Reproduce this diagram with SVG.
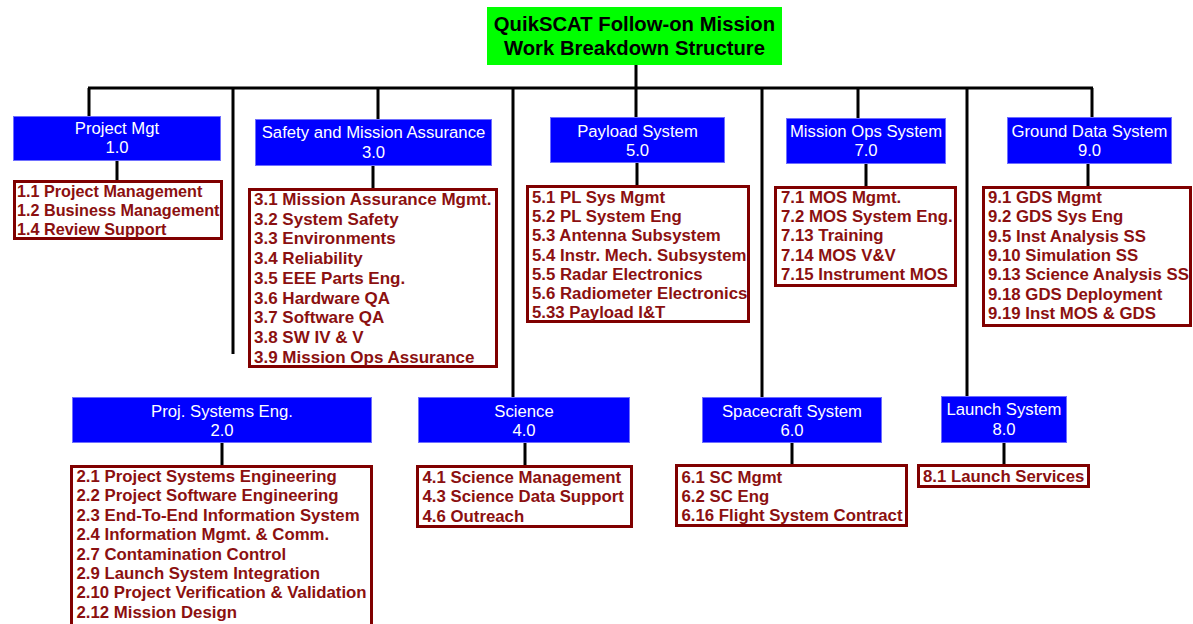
<svg xmlns="http://www.w3.org/2000/svg" width="1193" height="624" viewBox="0 0 1193 624">
<style>
.title{font-family:"Liberation Sans",Arial,sans-serif;font-weight:bold;font-size:20.3px;fill:#000;text-anchor:middle}
.hd{fill:#0000ff;stroke:#6f6fff;stroke-width:1}
.ht{font-family:"Liberation Sans",Arial,sans-serif;font-size:16.7px;fill:#fff;text-anchor:middle}
.sb{fill:#fff;stroke:#800000;stroke-width:3}
.st{font-family:"Liberation Sans",Arial,sans-serif;font-weight:bold;font-size:16.8px;fill:#8b1010}
.ln{stroke:#000;stroke-width:3;fill:none}
</style>
<rect width="1193" height="624" fill="#fff"/>
<g id="connectors">
<path class="ln" d="M636 65V117 M88 88H1093 M89 88V116 M233 88V354 M378 88V119 M513 88V397 M762 88V397 M858 88V118 M967 88V396 M1092 88V117"/>
<path class="ln" d="M117 161V180 M373 166V188 M637 163V185 M866 164V186 M1088 164V186 M222 443V465 M525 443V465 M792 443V464 M1004 443V464"/>
</g>
<g id="title">
<rect x="487" y="7" width="295" height="58" fill="#00ff00"/>
<text class="title" x="634.5" y="31">QuikSCAT Follow-on Mission</text>
<text class="title" x="634.5" y="55">Work Breakdown Structure</text>
</g>
<g id="n1">
<rect class="hd" x="13.5" y="116.5" width="207" height="44"/>
<text class="ht" x="117" y="134">Project Mgt</text>
<text class="ht" x="117" y="153">1.0</text>
<rect class="sb" x="14.5" y="181.5" width="207" height="57"/>
<text class="st" style="font-size:16.2px"><tspan x="17" y="197">1.1 Project Management</tspan><tspan x="17" y="216">1.2 Business Management</tspan><tspan x="17" y="234.5">1.4 Review Support</tspan></text>
</g>
<g id="n3">
<rect class="hd" x="255.5" y="119.5" width="236" height="46"/>
<text class="ht" x="373.5" y="138">Safety and Mission Assurance</text>
<text class="ht" x="373.5" y="158">3.0</text>
<rect class="sb" x="249.5" y="189.5" width="247" height="177"/>
<text class="st" style="font-size:17px"><tspan x="254" y="205">3.1 Mission Assurance Mgmt.</tspan><tspan x="254" y="224.7">3.2 System Safety</tspan><tspan x="254" y="244.4">3.3 Environments</tspan><tspan x="254" y="264.1">3.4 Reliability</tspan><tspan x="254" y="283.8">3.5 EEE Parts Eng.</tspan><tspan x="254" y="303.5">3.6 Hardware QA</tspan><tspan x="254" y="323.2">3.7 Software QA</tspan><tspan x="254" y="342.9">3.8 SW IV &amp; V</tspan><tspan x="254" y="362.6">3.9 Mission Ops Assurance</tspan></text>
</g>
<g id="n5">
<rect class="hd" x="550.5" y="117.5" width="174" height="45"/>
<text class="ht" x="637.5" y="137">Payload System</text>
<text class="ht" x="637.5" y="156">5.0</text>
<rect class="sb" x="527.5" y="186.5" width="221" height="135"/>
<text class="st"><tspan x="532" y="203">5.1 PL Sys Mgmt</tspan><tspan x="532" y="222.2">5.2 PL System Eng</tspan><tspan x="532" y="241.4">5.3 Antenna Subsystem</tspan><tspan x="532" y="260.6">5.4 Instr. Mech. Subsystem</tspan><tspan x="532" y="279.8">5.5 Radar Electronics</tspan><tspan x="532" y="299">5.6 Radiometer Electronics</tspan><tspan x="532" y="318.2">5.33 Payload I&amp;T</tspan></text>
</g>
<g id="n7">
<rect class="hd" x="786.5" y="118.5" width="159" height="45"/>
<text class="ht" x="866" y="137">Mission Ops System</text>
<text class="ht" x="866" y="156">7.0</text>
<rect class="sb" x="775.5" y="187.5" width="180" height="98"/>
<text class="st"><tspan x="781" y="203">7.1 MOS Mgmt.</tspan><tspan x="781" y="222.2">7.2 MOS System Eng.</tspan><tspan x="781" y="241.4">7.13 Training</tspan><tspan x="781" y="260.6">7.14 MOS V&amp;V</tspan><tspan x="781" y="279.8">7.15 Instrument MOS</tspan></text>
</g>
<g id="n9">
<rect class="hd" x="1007.5" y="117.5" width="164" height="46"/>
<text class="ht" x="1089.5" y="137">Ground Data System</text>
<text class="ht" x="1089.5" y="156">9.0</text>
<rect class="sb" x="983.5" y="187.5" width="207" height="138"/>
<text class="st"><tspan x="988" y="203">9.1 GDS Mgmt</tspan><tspan x="988" y="222.3">9.2 GDS Sys Eng</tspan><tspan x="988" y="241.6">9.5 Inst Analysis SS</tspan><tspan x="988" y="260.9">9.10 Simulation SS</tspan><tspan x="988" y="280.2">9.13 Science Analysis SS</tspan><tspan x="988" y="299.5">9.18 GDS Deployment</tspan><tspan x="988" y="318.8">9.19 Inst MOS &amp; GDS</tspan></text>
</g>
<g id="n2">
<rect class="hd" x="72.5" y="397.5" width="299" height="45"/>
<text class="ht" x="222" y="417">Proj. Systems Eng.</text>
<text class="ht" x="222" y="436">2.0</text>
<rect class="sb" x="71.5" y="466.5" width="300" height="170"/>
<text class="st"><tspan x="76.5" y="482">2.1 Project Systems Engineering</tspan><tspan x="76.5" y="501.4">2.2 Project Software Engineering</tspan><tspan x="76.5" y="520.8">2.3 End-To-End Information System</tspan><tspan x="76.5" y="540.2">2.4 Information Mgmt. &amp; Comm.</tspan><tspan x="76.5" y="559.6">2.7 Contamination Control</tspan><tspan x="76.5" y="579">2.9 Launch System Integration</tspan><tspan x="76.5" y="598.4">2.10 Project Verification &amp; Validation</tspan><tspan x="76.5" y="617.8">2.12 Mission Design</tspan></text>
</g>
<g id="n4">
<rect class="hd" x="418.5" y="397.5" width="211" height="45"/>
<text class="ht" x="524" y="417">Science</text>
<text class="ht" x="524" y="436">4.0</text>
<rect class="sb" x="417.5" y="466.5" width="214" height="60"/>
<text class="st"><tspan x="422.5" y="482.5">4.1 Science Management</tspan><tspan x="422.5" y="502">4.3 Science Data Support</tspan><tspan x="422.5" y="521.5">4.6 Outreach</tspan></text>
</g>
<g id="n6">
<rect class="hd" x="702.5" y="397.5" width="179" height="45"/>
<text class="ht" x="792" y="417">Spacecraft System</text>
<text class="ht" x="792" y="436">6.0</text>
<rect class="sb" x="676.5" y="465.5" width="230" height="60"/>
<text class="st"><tspan x="681.5" y="482.5">6.1 SC Mgmt</tspan><tspan x="681.5" y="501.8">6.2 SC Eng</tspan><tspan x="681.5" y="521">6.16 Flight System Contract</tspan></text>
</g>
<g id="n8">
<rect class="hd" x="941.5" y="396.5" width="125" height="46"/>
<text class="ht" x="1004" y="415">Launch System</text>
<text class="ht" x="1004" y="435">8.0</text>
<rect class="sb" x="918.5" y="465.5" width="170" height="21"/>
<text class="st"><tspan x="923" y="481.5">8.1 Launch Services</tspan></text>
</g>
</svg>
